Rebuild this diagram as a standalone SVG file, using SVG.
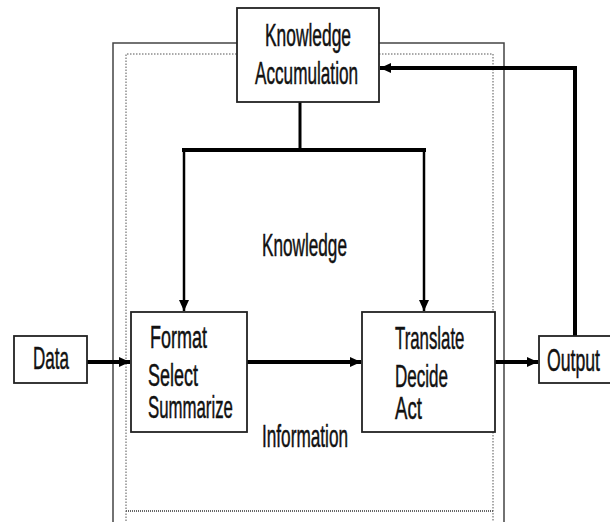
<svg xmlns="http://www.w3.org/2000/svg" width="610" height="522" viewBox="0 0 610 522">
<style>
.box{fill:#fff;stroke:#222;stroke-width:1.8}
.t{font-family:"Liberation Sans",Arial,sans-serif;font-size:31px;fill:#111;stroke:#111;stroke-width:0.5}
.outer{fill:none;stroke:#444;stroke-width:1.5}
.dot{fill:none;stroke:#555;stroke-width:1;stroke-dasharray:1.5,1.5}
.c{fill:none;stroke:#000}
</style>
<defs>
<marker id="ah" markerUnits="userSpaceOnUse" markerWidth="12" markerHeight="12" viewBox="0 0 12 12" refX="11" refY="6" orient="auto">
<path d="M0,1 L11,6 L0,11 Z" fill="#000"/>
</marker>
</defs>
<rect width="610" height="522" fill="#fff"/>
<g id="frame">
<path class="outer" d="M113,530 V43 H504 V530"/>
<path class="dot" d="M126,530 V54 H493 V530"/>
<line x1="126" y1="511" x2="493" y2="511" stroke="#666" stroke-width="2.2" stroke-dasharray="1,1"/>
</g>
<g id="connectors">
<path class="c" stroke-width="3" d="M300,102 V150"/>
<path class="c" stroke-width="4" d="M182,150 H426"/>
<path class="c" stroke-width="2.5" d="M184,150 V311" marker-end="url(#ah)"/>
<path class="c" stroke-width="2.5" d="M424,150 V311" marker-end="url(#ah)"/>
<path class="c" stroke-width="4" d="M87,362 H130" marker-end="url(#ah)"/>
<path class="c" stroke-width="4" d="M247,362 H361" marker-end="url(#ah)"/>
<path class="c" stroke-width="4" d="M495,362 H538" marker-end="url(#ah)"/>
<path class="c" stroke-width="4" d="M575,336 V68 H380" marker-end="url(#ah)"/>
</g>
<g id="knowledge-accumulation">
<rect class="box" x="237" y="8" width="142" height="94"/>
<text class="t" transform="translate(265,46) scale(0.561,1)">Knowledge</text>
<text class="t" transform="translate(255,84) scale(0.554,1)">Accumulation</text>
</g>
<g id="data">
<rect class="box" x="14" y="336" width="73" height="47"/>
<text class="t" transform="translate(33,369) scale(0.55,1)">Data</text>
</g>
<g id="format">
<rect class="box" x="131" y="312" width="116" height="120"/>
<text class="t" transform="translate(150,348) scale(0.58,1)">Format</text>
<text class="t" transform="translate(148,386) scale(0.58,1)">Select</text>
<text class="t" transform="translate(148,418) scale(0.542,1)">Summarize</text>
</g>
<g id="translate">
<rect class="box" x="362" y="312" width="133" height="120"/>
<text class="t" transform="translate(395,349) scale(0.542,1)">Translate</text>
<text class="t" transform="translate(395,387) scale(0.55,1)">Decide</text>
<text class="t" transform="translate(395,419) scale(0.6,1)">Act</text>
</g>
<g id="output">
<rect class="box" x="539" y="336" width="75" height="47"/>
<text class="t" transform="translate(547,371) scale(0.57,1)">Output</text>
</g>
<g id="labels">
<text class="t" transform="translate(262,256) scale(0.554,1)">Knowledge</text>
<text class="t" transform="translate(262,447) scale(0.555,1)">Information</text>
</g>
</svg>
